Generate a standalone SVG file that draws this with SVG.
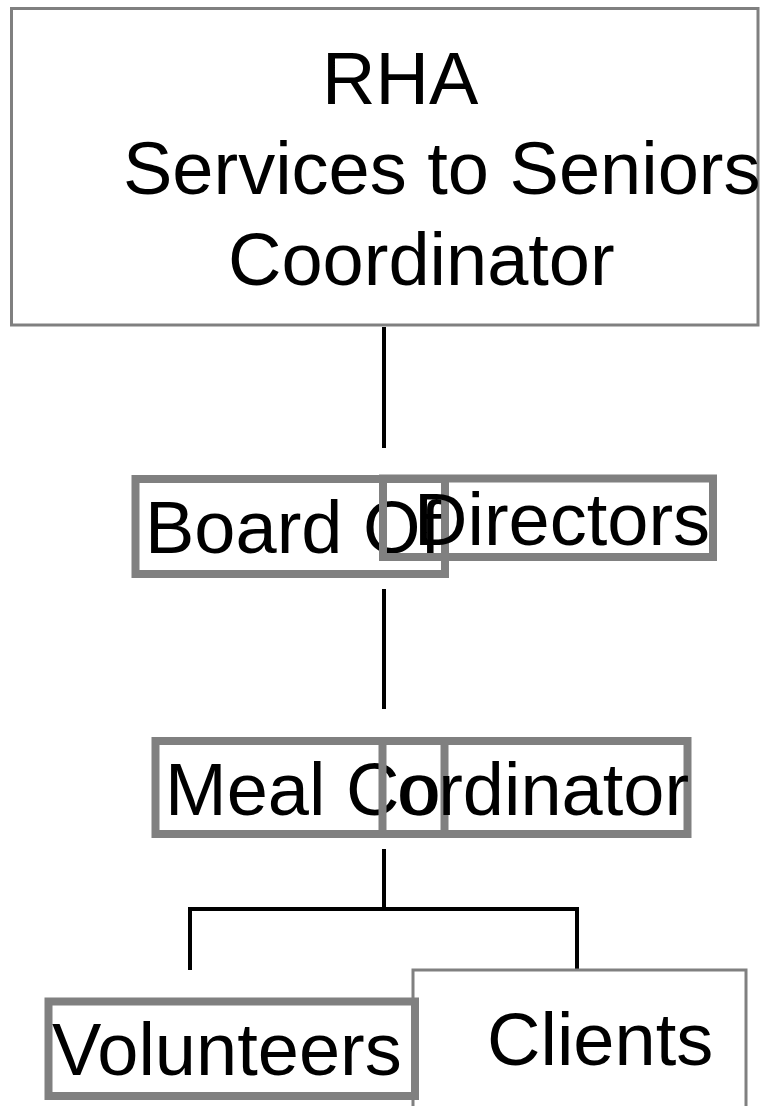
<svg xmlns="http://www.w3.org/2000/svg" width="767" height="1106" viewBox="0 0 767 1106">
<style>
.t{font-family:"Liberation Sans",Arial,sans-serif;font-size:74px;fill:#000}
.thin{fill:#fff;stroke:#808080;stroke-width:3}
.thick{fill:none;stroke:#808080;stroke-width:8}
.c{stroke:#000;stroke-width:4;fill:none}
</style>
<rect width="767" height="1106" fill="#fff"/>
<g id="connectors">
<line class="c" x1="384" y1="327" x2="384" y2="448"/>
<line class="c" x1="384" y1="589" x2="384" y2="709"/>
<line class="c" x1="384" y1="849" x2="384" y2="909"/>
<polyline class="c" points="190,970 190,909 577,909 577,970"/>
</g>
<g id="rha">
<rect class="thin" x="11.5" y="8.5" width="746.5" height="316.5"/>
<text class="t" x="322" y="104">RHA</text>
<text class="t" x="123" y="194">Services to Seniors</text>
<text class="t" x="228" y="285">Coordinator</text>
</g>
<g id="board">
<rect class="thick" x="135.5" y="479" width="309.5" height="95"/>
<text class="t" x="145" y="553">Board Of</text>
</g>
<g id="directors">
<rect class="thick" x="383" y="478.5" width="330" height="78.5"/>
<text class="t" x="414" y="545">Directors</text>
</g>
<g id="meal">
<rect class="thick" x="155.5" y="741" width="289" height="93"/>
<text class="t" x="165" y="815">Meal Co</text>
</g>
<g id="coordinator">
<rect class="thick" x="382.5" y="741" width="305" height="93"/>
<text class="t" x="397" y="815">ordinator</text>
</g>
<g id="clients">
<rect class="thin" x="413" y="970" width="333" height="150"/>
<text class="t" x="487" y="1065">Clients</text>
</g>
<g id="volunteers">
<rect class="thick" x="48.5" y="1001.5" width="366.5" height="94.5"/>
<text class="t" x="52" y="1075">Volunteers</text>
</g>
</svg>
